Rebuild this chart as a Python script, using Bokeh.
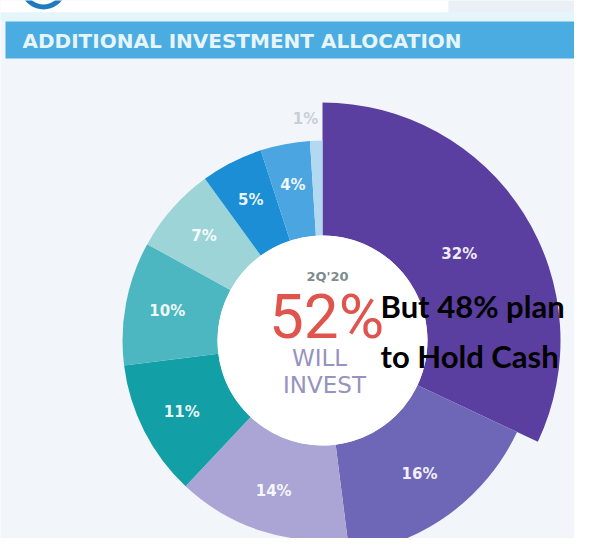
import numpy as np
from bokeh.plotting import figure
from bokeh.models import Range1d, ColumnDataSource
from bokeh.core.properties import value
from bokeh.embed import file_html
from bokeh.resources import INLINE

# ---------------- data ----------------
title = "ADDITIONAL INVESTMENT ALLOCATION"
shares = [32, 16, 14, 11, 10, 7, 5, 4, 1]
share_labels = ["32%", "16%", "14%", "11%", "10%", "7%", "5%", "4%", "1%"]
center_top = "2Q'20"
center_value = "52%"
center_lines = ["WILL", "INVEST"]
overlay_lines = ["But 48% plan", "to Hold Cash"]

# ---------------- styles ----------------
slice_colors = ["#5a3ea0", "#6e67b8", "#aaa5d5", "#139fa6", "#4cb7c0",
                "#9dd4d8", "#1b8ed6", "#4aa5e0", "#b3d9f0"]
label_colors = ["#ffffff"] * 8 + ["#c3cbd3"]
extra_radius = {0: 38, 1: 15}

H = 554  # data y = H - screen y


def sy(y):
    return H - y


cx, cy = 322, sy(340)
r_in, r_out = 105, 200

p = figure(width=574, height=538, x_range=Range1d(0, 574), y_range=Range1d(16, 554),
           output_backend="svg", toolbar_location=None, min_border=0)
p.axis.visible = False
p.grid.visible = False
p.outline_line_color = None
p.background_fill_color = "#f2f6fb"
p.border_fill_color = "#f2f6fb"

# header band
p.quad(left=[0], right=[448], top=[sy(0)], bottom=[sy(12)], fill_color="#ffffff", line_color=None)
p.quad(left=[448], right=[574], top=[sy(0)], bottom=[sy(12)], fill_color="#eaf0f6", line_color=None)
p.quad(left=[0], right=[574], top=[sy(12)], bottom=[sy(21)], fill_color="#e4f5fb", line_color=None)
p.quad(left=[5], right=[574], top=[sy(21)], bottom=[sy(58)], fill_color="#4aace0", line_color=None)
p.annular_wedge(x=[43], y=[sy(-14)], inner_radius=18, outer_radius=23, start_angle=[np.pi * 1.1],
                end_angle=[np.pi * 1.9], fill_color="#1f7ac0", line_color=None)
p.text(x=[22], y=[sy(40)], text=[title], text_font=value("DejaVu Sans"), text_font_style="bold",
       text_font_size="20px", text_color="#e6f5fc", text_baseline="middle", text_align="left")

# donut
vals = np.array(shares, dtype=float)
cum = np.concatenate([[0], np.cumsum(vals)]) / vals.sum() * 2 * np.pi
start = np.pi / 2 - cum[1:]
end = np.pi / 2 - cum[:-1]
outer = [r_out + extra_radius.get(i, 0) for i in range(len(shares))]
src = ColumnDataSource(dict(start=start, end=end, outer=outer, color=slice_colors))
p.annular_wedge(x=cx, y=cy, inner_radius=r_in, outer_radius="outer", start_angle="start",
                end_angle="end", fill_color="color", line_color=None, source=src)
p.circle(x=[cx], y=[cy], radius=r_in, fill_color="#ffffff", line_color=None)

mid = (start + end) / 2
lab_r = np.array([162, 165] + [158] * 6 + [222], dtype=float)
lab_x = cx + lab_r * np.cos(mid)
lab_x[-1] -= 10
lsrc = ColumnDataSource(dict(x=lab_x, y=cy + lab_r * np.sin(mid),
                             text=share_labels, color=label_colors))
p.text(x="x", y="y", text="text", text_color="color", source=lsrc, text_font=value("DejaVu Sans"),
       text_font_style="bold", text_font_size="15px", text_align="center", text_baseline="middle",
       text_alpha=0.92)

# center texts
p.text(x=[327], y=[sy(276)], text=[center_top], text_font=value("DejaVu Sans"), text_font_style="bold",
       text_font_size="13px", text_color="#7f8b8d", text_align="center", text_baseline="middle")
p.text(x=[326], y=[sy(316)], text=[center_value], text_font=value("Roboto"),
       text_font_size="62px", text_color="#e0544e", text_align="center", text_baseline="middle")
p.text(x=[319, 324], y=[sy(357), sy(384)], text=center_lines, text_font=value("DejaVu Sans"),
       text_font_size="23px", text_color="#9693c0", text_align="center", text_baseline="middle")

# overlay annotation
p.text(x=[380, 380], y=[sy(305), sy(355)], text=overlay_lines, text_font=value("Lato"),
       text_font_style="bold", text_font_size="31px", text_color="#000000",
       text_align="left", text_baseline="middle")

open("out.html", "w").write(file_html(p, INLINE))
